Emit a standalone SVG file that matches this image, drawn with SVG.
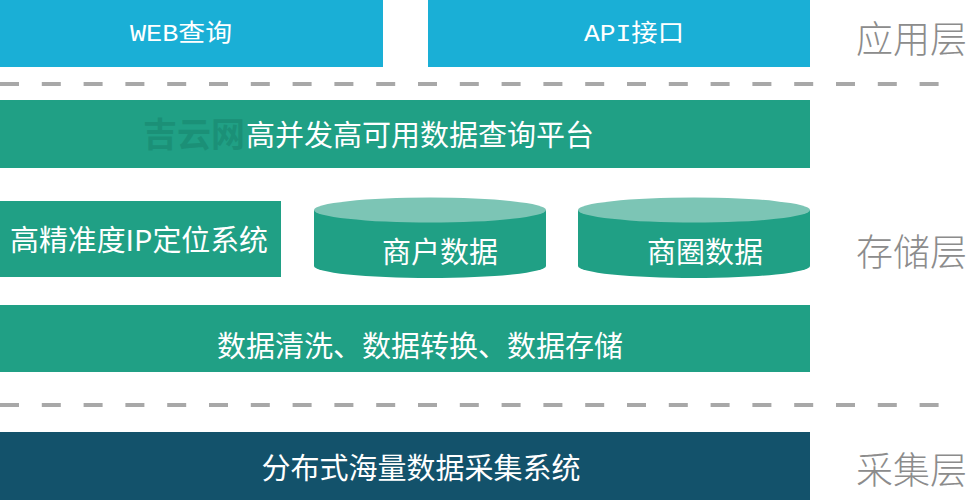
<svg xmlns="http://www.w3.org/2000/svg" width="969" height="500" viewBox="0 0 969 500">
<style>
.app{fill:#1aafd6}
.grn{fill:#20a085}
.top{fill:#7cc5b5}
.dark{fill:#13526b}
.dash{stroke:#a8a8a8;stroke-width:4;stroke-dasharray:19 22.8;fill:none}
.t{fill:#ffffff;font-family:"Noto Sans CJK SC","Noto Sans",sans-serif;font-size:29px;text-anchor:middle;dominant-baseline:central}
.ts{fill:#ffffff;font-family:"Liberation Mono","Noto Sans CJK SC",monospace;font-size:24px;text-anchor:middle;dominant-baseline:central}
.lbl{fill:#8c8c8c;font-family:"Noto Sans CJK SC",sans-serif;font-size:37px;font-weight:300;dominant-baseline:central}
.wm{fill:#1b9077;font-family:"Noto Sans CJK SC",sans-serif;font-size:34px;font-weight:bold;dominant-baseline:central}
</style>
<rect width="969" height="500" fill="#ffffff"/>
<g id="connectors">
<line class="dash" x1="0" y1="84" x2="940" y2="84"/>
<line class="dash" x1="0" y1="405" x2="940" y2="405"/>
</g>
<g id="web"><rect class="app" x="0" y="0" width="383" height="67"/><text class="ts" x="181" y="34" textLength="102" lengthAdjust="spacingAndGlyphs">WEB查询</text></g>
<g id="api"><rect class="app" x="428" y="0" width="382" height="67"/><text class="ts" x="634" y="34" textLength="100" lengthAdjust="spacingAndGlyphs">API接口</text></g>
<g id="platform"><rect class="grn" x="0" y="100" width="810" height="68"/><text class="wm" x="143" y="132">吉云网</text><text class="t" x="420" y="133">高并发高可用数据查询平台</text></g>
<g id="ipsys"><rect class="grn" x="0" y="201" width="281" height="76"/><text class="t" x="139" y="238" textLength="258" lengthAdjust="spacingAndGlyphs">高精准度IP定位系统</text></g>
<g id="merchant"><path class="grn" d="M314 210 L314 266 A116 12 0 0 0 546 266 L546 210 Z"/><ellipse class="top" cx="430" cy="210" rx="116" ry="12.5"/><text class="t" x="440" y="250">商户数据</text></g>
<g id="circle"><path class="grn" d="M578 210 L578 266 A116 12 0 0 0 810 266 L810 210 Z"/><ellipse class="top" cx="694" cy="210" rx="116" ry="12.5"/><text class="t" x="705" y="250">商圈数据</text></g>
<g id="etl"><rect class="grn" x="0" y="305" width="810" height="67"/><text class="t" x="420" y="344">数据清洗、数据转换、数据存储</text></g>
<g id="collect"><rect class="dark" x="0" y="432" width="810" height="68"/><text class="t" x="421" y="466">分布式海量数据采集系统</text></g>
<g id="labels">
<text class="lbl" x="856" y="37">应用层</text>
<text class="lbl" x="856" y="250">存储层</text>
<text class="lbl" x="856" y="468">采集层</text>
</g>
</svg>
